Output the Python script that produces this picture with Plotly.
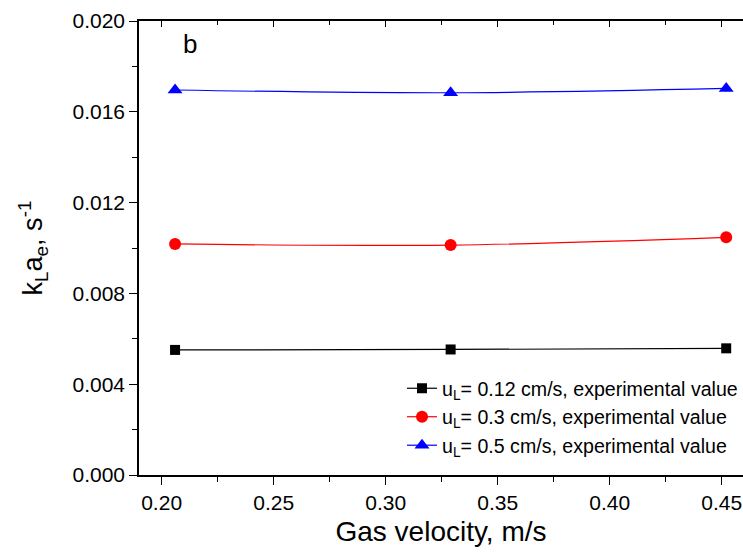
import plotly.graph_objects as go

# Gas velocity (m/s) and measured kLae (1/s) for three liquid velocities
gas_velocity = [0.206, 0.329, 0.452]
kla_012 = [0.00551, 0.00553, 0.00558]
kla_03 = [0.01018, 0.01013, 0.01047]
kla_05 = [0.01696, 0.01684, 0.01703]

series = [
    ("u<sub>L</sub>= 0.12 cm/s, experimental value", kla_012, "black", "square", 10),
    ("u<sub>L</sub>= 0.3 cm/s, experimental value", kla_03, "red", "circle", 12),
    ("u<sub>L</sub>= 0.5 cm/s, experimental value", kla_05, "blue", "triangle-up", 13),
]

fig = go.Figure()
for name, vals, color, symbol, size in series:
    fig.add_trace(go.Scatter(
        x=gas_velocity, y=vals, name=name, mode="lines+markers",
        line=dict(color=color, width=1.2, shape="spline"),
        marker=dict(color=color, symbol=symbol, size=size),
    ))

# invisible trace on the top axis so its ticks are drawn
fig.add_trace(go.Scatter(x=gas_velocity, y=kla_012, xaxis="x2", showlegend=False,
                         mode="markers", marker=dict(opacity=0), hoverinfo="skip"))

font = "Liberation Sans, Arial, sans-serif"
fig.update_layout(
    width=743, height=552,
    margin=dict(l=139, r=0, t=21, b=77),
    paper_bgcolor="white", plot_bgcolor="white",
    font=dict(family=font, color="black"),
    showlegend=True,
    legend=dict(x=1, xanchor="right", y=0.022, yanchor="bottom",
                font=dict(size=19.6), bgcolor="rgba(0,0,0,0)",
                itemwidth=30),
    xaxis=dict(
        range=[0.1899, 0.4595], dtick=0.05, tick0=0.2, tickformat=".2f",
        showline=True, linecolor="black", linewidth=1.5,
        ticks="outside", ticklen=8, tickwidth=1.2, tickcolor="black",
        minor=dict(dtick=0.025, ticks="outside", ticklen=5, tickcolor="black", tickwidth=1.2),
        showgrid=False, zeroline=False,
        tickfont=dict(size=21),
        title=dict(text="Gas velocity, m/s", font=dict(size=28), standoff=8),
    ),
    xaxis2=dict(
        overlaying="x", side="top", matches="x", anchor="y",
        range=[0.1899, 0.4595], dtick=0.05, tick0=0.2,
        showline=True, linecolor="black", linewidth=1.5,
        ticks="inside", ticklen=6, tickwidth=1.2, tickcolor="black",
        minor=dict(dtick=0.025, ticks="inside", ticklen=4, tickcolor="black", tickwidth=1.2),
        showticklabels=False, showgrid=False, zeroline=False,
    ),
    yaxis=dict(
        range=[0, 0.020], dtick=0.004, tickformat=".3f",
        showline=True, linecolor="black", linewidth=1.5,
        ticks="outside", ticklen=8, tickwidth=1.2, tickcolor="black",
        minor=dict(dtick=0.002, ticks="outside", ticklen=5, tickcolor="black", tickwidth=1.2),
        showgrid=False, zeroline=False,
        tickfont=dict(size=21),
        title=dict(text="k<sub>L</sub>a<sub>e</sub>, s<sup>-1</sup>", font=dict(size=27), standoff=22),
    ),
    annotations=[dict(text="b", x=0.2085, y=0.0190, xref="x", yref="y",
                      showarrow=False, font=dict(size=26), xanchor="left", yanchor="middle")],
)

fig.write_html("out.html")
